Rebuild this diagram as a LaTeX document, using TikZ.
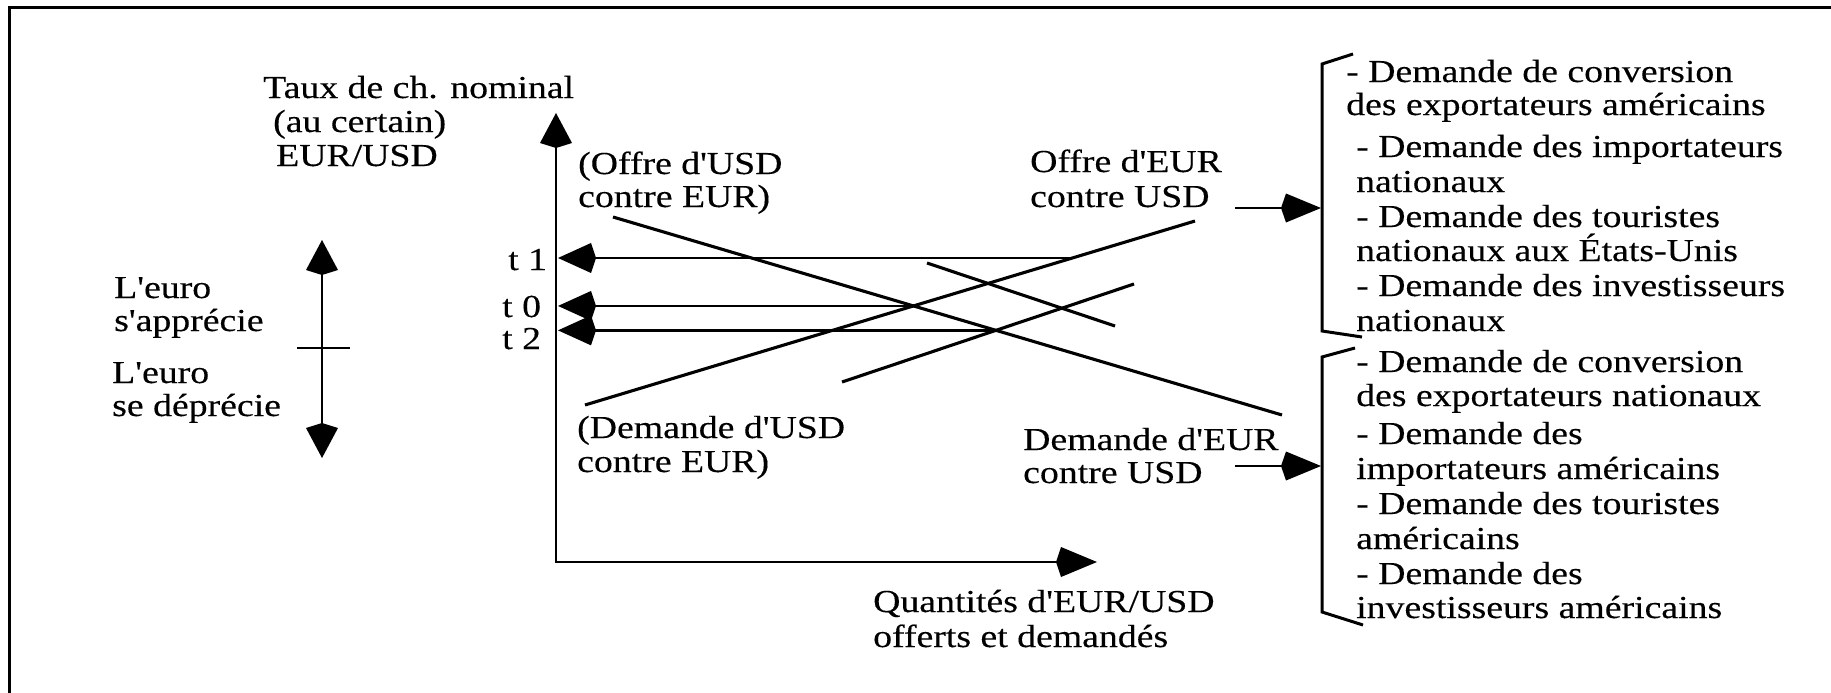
\documentclass[tikz,border=0pt]{standalone}
\usepackage{fontspec}
\setmainfont{Liberation Serif}
\newfontfamily\lbl{Liberation Serif}[FakeStretch=1.18, FakeBold=0.3, Ligatures=TeXOff]
\usetikzlibrary{arrows.meta}
\begin{document}
\begin{tikzpicture}[x=1pt, y=-1pt,
  lab/.style={inner sep=0pt, anchor=base west, font=\lbl\fontsize{32}{34}\selectfont},
  curve/.style={line width=3.1pt},
  frame/.style={line width=3pt},
  axis/.style={line width=2.7pt, {Kite[length=35pt,width=32pt,inset=5pt]}-{Kite[length=41pt,width=30pt,inset=5pt]}},
  tarr/.style={line width=2.7pt, -{Kite[length=38pt,width=30pt,inset=5pt]}},
  rarr/.style={line width=2.6pt, -{Kite[length=40pt,width=29pt,inset=5pt]}},
  euro/.style={line width=2.7pt, {Kite[length=35pt,width=32pt,inset=5pt]}-{Kite[length=35pt,width=32pt,inset=5pt]}},
  brk/.style={line width=3pt, line join=miter}
]
\useasboundingbox (0,0) rectangle (1831,693);

% frame (top and left edges)
\coordinate (fTR) at (1840,8);
\coordinate (fTL) at (9,8);
\coordinate (fBL) at (9,700);
\draw[frame] (fTR) -- (fTL) -- (fBL);

% axes
\coordinate (O) at (556,562);
\coordinate (Ytip) at (556,113);
\coordinate (Xtip) at (1097,562);
\coordinate (yx) at (558,0);
\draw[axis] (Ytip) -- (O) -- (Xtip);

% curves
\coordinate (dA1) at (613,217);  \coordinate (dA2) at (1282,415);
\coordinate (dB1) at (927,263);  \coordinate (dB2) at (1115,326);
\coordinate (uA1) at (585,405);  \coordinate (uA2) at (1195,221);
\coordinate (uB1) at (842,382);  \coordinate (uB2) at (1134,284);
\draw[curve] (dA1) -- (dA2);
\draw[curve] (dB1) -- (dB2);
\draw[curve] (uA1) -- (uA2);
\draw[curve] (uB1) -- (uB2);

% equilibrium levels
\coordinate (h1a) at (600,258); \coordinate (h1b) at (1300,258);
\coordinate (e1) at (intersection of uA1--uA2 and h1a--h1b);
\coordinate (e0) at (intersection of uA1--uA2 and dA1--dA2);
\coordinate (e2) at (intersection of uB1--uB2 and dA1--dA2);
\draw[tarr] (e1) -- (e1 -| yx);
\draw[tarr] (e0) -- (e0 -| yx);
\draw[tarr] (e2) -- (e2 -| yx);

\node[lab] (t1) at (508,270) {t 1};
\node[lab] (t0) at (502,317) {t 0};
\node[lab] (t2) at (502,349) {t 2};

% axis titles
\node[lab] (ya1) at (263,98) {Taux de ch. nominal};
\node[lab] (ya2) at (273,132) {(au certain)};
\node[lab] (ya3) at (276,166) {EUR/USD};
\node[lab] (xa1) at (873,612) {Quantités d'EUR/USD};
\node[lab] (xa2) at (873,647) {offerts et demandés};

% euro arrow
\coordinate (eTop) at (322,240);
\coordinate (eBot) at (322,458);
\coordinate (kL) at (297,348);
\coordinate (kR) at (350,348);
\draw[euro] (eTop) -- (eBot);
\draw[line width=2.6pt] (kL) -- (kR);
\node[lab] (ap1) at (114,298) {L'euro};
\node[lab] (ap2) at (114,331) {s'apprécie};
\node[lab] (dp1) at (112,383) {L'euro};
\node[lab] (dp2) at (112,416) {se déprécie};

% curve labels
\node[lab] (ou1) at (578,174) {(Offre d'USD};
\node[lab] (ou2) at (578,207) {contre EUR)};
\node[lab] (oe1) at (1030,172) {Offre d'EUR};
\node[lab] (oe2) at (1030,207) {contre USD};
\node[lab] (du1) at (577,438) {(Demande d'USD};
\node[lab] (du2) at (577,472) {contre EUR)};
\node[lab] (de1) at (1023,450) {Demande d'EUR};
\node[lab] (de2) at (1023,483) {contre USD};

% arrows to the lists
\coordinate (ra1) at (1235,208); \coordinate (rb1) at (1321,208);
\coordinate (ra2) at (1235,466); \coordinate (rb2) at (1321,466);
\draw[rarr] (ra1) -- (rb1);
\draw[rarr] (ra2) -- (rb2);

% brackets
\coordinate (b1a) at (1353,54);  \coordinate (b1b) at (1322,64);
\coordinate (b1c) at (1322,331); \coordinate (b1d) at (1362,337);
\coordinate (b2a) at (1355,348); \coordinate (b2b) at (1322,357);
\coordinate (b2c) at (1322,612); \coordinate (b2d) at (1363,625);
\draw[brk] (b1a) -- (b1b) -- (b1c) -- (b1d);
\draw[brk] (b2a) -- (b2b) -- (b2c) -- (b2d);

% first list
\node[lab] (g1a) at (1346,82)  {- Demande de conversion};
\node[lab] (g1b) at (1346,115) {des exportateurs américains};
\node[lab] (g1c) at (1356,157) {- Demande des importateurs};
\node[lab] (g1d) at (1356,192) {nationaux};
\node[lab] (g1e) at (1356,227) {- Demande des touristes};
\node[lab] (g1f) at (1356,261) {nationaux aux États-Unis};
\node[lab] (g1g) at (1356,296) {- Demande des investisseurs};
\node[lab] (g1h) at (1356,331) {nationaux};

% second list
\node[lab] (g2a) at (1356,372) {- Demande de conversion};
\node[lab] (g2b) at (1356,406) {des exportateurs nationaux};
\node[lab] (g2c) at (1356,444) {- Demande des};
\node[lab] (g2d) at (1356,479) {importateurs américains};
\node[lab] (g2e) at (1356,514) {- Demande des touristes};
\node[lab] (g2f) at (1356,549) {américains};
\node[lab] (g2g) at (1356,584) {- Demande des};
\node[lab] (g2h) at (1356,618) {investisseurs américains};
\end{tikzpicture}
\end{document}
